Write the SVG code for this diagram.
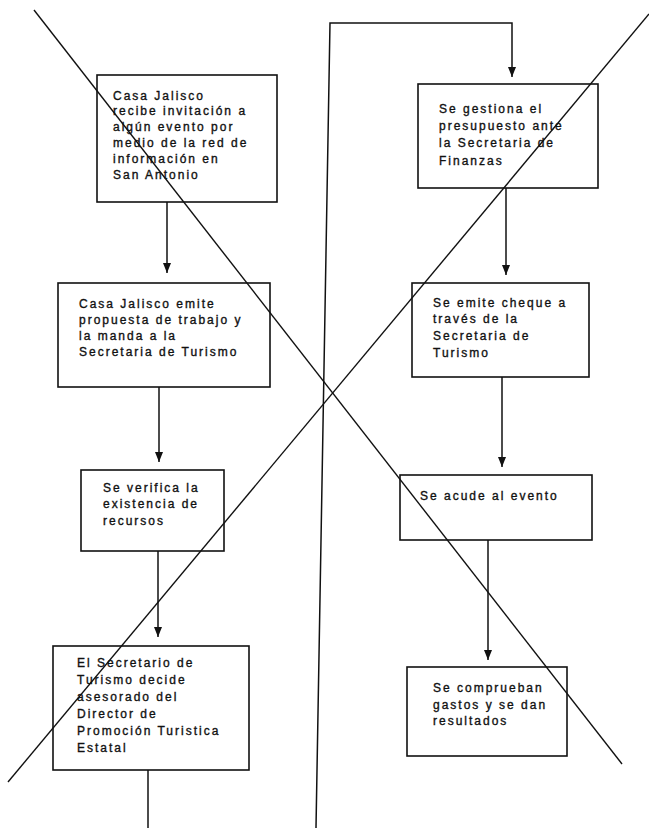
<svg xmlns="http://www.w3.org/2000/svg" width="649" height="828" viewBox="0 0 649 828">
<style>
.box{fill:none;stroke:#111;stroke-width:1.6}
.t{font-family:"Liberation Sans",Arial,sans-serif;font-size:12px;letter-spacing:2px;fill:#111;stroke:#111;stroke-width:0.35}
.c{fill:none;stroke:#111;stroke-width:1.5}
.x{fill:none;stroke:#111;stroke-width:1.4}
</style>
<defs>
<marker id="ah" viewBox="0 0 10 8" refX="10" refY="4" markerWidth="10" markerHeight="8" markerUnits="userSpaceOnUse" orient="auto">
<path d="M0,0 L10,4 L0,8 Z" fill="#111"/>
</marker>
</defs>
<rect width="649" height="828" fill="#fff"/>
<g id="n1">
<rect class="box" x="97" y="75" width="180" height="127"/>
<text class="t" x="113" y="100">Casa Jalisco</text>
<text class="t" x="113" y="115">recibe invitación a</text>
<text class="t" x="113" y="131">algún evento por</text>
<text class="t" x="113" y="147">medio de la red de</text>
<text class="t" x="113" y="163">información en</text>
<text class="t" x="113" y="179">San Antonio</text>
</g>
<g id="n2">
<rect class="box" x="58" y="283" width="212" height="104"/>
<text class="t" x="79" y="308">Casa Jalisco emite</text>
<text class="t" x="79" y="324">propuesta de trabajo y</text>
<text class="t" x="79" y="340">la manda a la</text>
<text class="t" x="79" y="356">Secretaria de Turismo</text>
</g>
<g id="n3">
<rect class="box" x="81" y="470" width="143" height="81"/>
<text class="t" x="103" y="492">Se verifica la</text>
<text class="t" x="103" y="508">existencia de</text>
<text class="t" x="103" y="525">recursos</text>
</g>
<g id="n4">
<rect class="box" x="53" y="646" width="196" height="124"/>
<text class="t" x="77" y="667">El Secretario de</text>
<text class="t" x="77" y="684">Turismo decide</text>
<text class="t" x="77" y="701">asesorado del</text>
<text class="t" x="77" y="718">Director de</text>
<text class="t" x="77" y="735">Promoción Turistica</text>
<text class="t" x="77" y="752">Estatal</text>
</g>
<g id="n5">
<rect class="box" x="418" y="84" width="180" height="104"/>
<text class="t" x="439" y="113">Se gestiona el</text>
<text class="t" x="439" y="130">presupuesto ante</text>
<text class="t" x="439" y="147">la Secretaria de</text>
<text class="t" x="439" y="165">Finanzas</text>
</g>
<g id="n6">
<rect class="box" x="412" y="283" width="177" height="94"/>
<text class="t" x="433" y="307">Se emite cheque a</text>
<text class="t" x="433" y="323">través de la</text>
<text class="t" x="433" y="340">Secretaria de</text>
<text class="t" x="433" y="357">Turismo</text>
</g>
<g id="n7">
<rect class="box" x="400" y="475" width="192" height="65"/>
<text class="t" x="420" y="500">Se acude al evento</text>
</g>
<g id="n8">
<rect class="box" x="407" y="667" width="160" height="89"/>
<text class="t" x="433" y="692">Se comprueban</text>
<text class="t" x="433" y="709">gastos y se dan</text>
<text class="t" x="433" y="725">resultados</text>
</g>
<g id="connectors">
<line class="c" x1="167" y1="202" x2="167" y2="273" marker-end="url(#ah)"/>
<line class="c" x1="159" y1="387" x2="159" y2="462" marker-end="url(#ah)"/>
<line class="c" x1="158" y1="551" x2="158" y2="637" marker-end="url(#ah)"/>
<polyline class="c" points="148,770 148,828"/>
<polyline class="c" points="316,828 330,23 512,23 512,77" marker-end="url(#ah)"/>
<line class="c" x1="506" y1="188" x2="506" y2="275" marker-end="url(#ah)"/>
<line class="c" x1="502" y1="377" x2="502" y2="467" marker-end="url(#ah)"/>
<line class="c" x1="488" y1="540" x2="488" y2="660" marker-end="url(#ah)"/>
</g>
<g id="cross">
<line class="x" x1="34" y1="10" x2="622" y2="764"/>
<line class="x" x1="8" y1="782" x2="649" y2="14"/>
</g>
</svg>
